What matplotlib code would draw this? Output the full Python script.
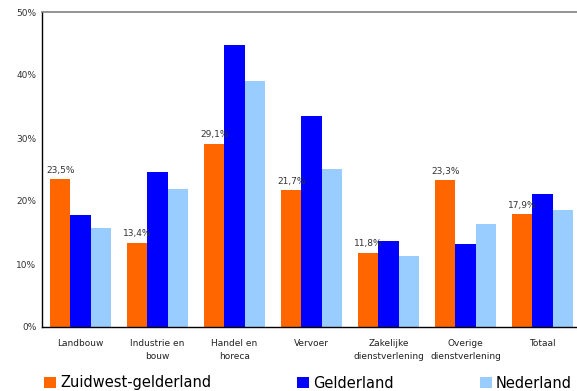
import matplotlib.pyplot as plt
import numpy as np

categories = ['Landbouw', 'Industrie en\nbouw', 'Handel en\nhoreca', 'Vervoer',
              'Zakelijke\ndienstverlening', 'Overige\ndienstverlening', 'Totaal']
zuidwest = [23.5, 13.4, 29.1, 21.7, 11.8, 23.3, 17.9]
gelderland = [17.8, 24.6, 44.8, 33.5, 13.6, 13.2, 21.1]
nederland = [15.7, 21.9, 39.0, 25.1, 11.3, 16.3, 18.6]

plt.rcParams['font.family'] = 'DejaVu Sans'

fig = plt.figure(figsize=(5.77, 3.91), dpi=100)
ax = fig.add_axes([42 / 577, 64 / 391, 539 / 577, 315 / 391])

x = np.arange(len(categories))
w = 0.26
b1 = ax.bar(x - w, zuidwest, w, color='#FF6600', label='Zuidwest-gelderland')
b2 = ax.bar(x, gelderland, w, color='#0000FF', label='Gelderland')
b3 = ax.bar(x + w, nederland, w, color='#99CCFF', label='Nederland')

# value labels only on the regional series
for bar, v in zip(b1, zuidwest):
    ax.text(bar.get_x() + bar.get_width() / 2, v + 0.7, f'{v:.1f}%'.replace('.', ','),
            ha='center', va='bottom', fontsize=6.5, color='#333333')

ax.set_xlim(-0.5, len(categories) - 0.5)
ax.set_ylim(0, 50)
ax.set_yticks(range(0, 51, 10))
ax.set_yticklabels([f'{t}%' for t in range(0, 51, 10)], fontsize=6.5, color='#333333')
ax.set_xticks(x)
ax.set_xticklabels(categories, fontsize=6.5, color='#222222', linespacing=1.5)
ax.tick_params(axis='both', length=0, pad=4)
ax.tick_params(axis='x', pad=9)

ax.spines['top'].set_color('#808080')
ax.spines['top'].set_linewidth(1.2)
ax.spines['left'].set_linewidth(1.0)
ax.spines['bottom'].set_linewidth(1.0)
ax.spines['right'].set_visible(False)

fig.legend(handles=[b1, b2, b3], loc='center left', bbox_to_anchor=(44 / 577, 1 - 383 / 391),
           ncol=3, frameon=False, fontsize=10.5, handlelength=0.8, handleheight=0.8,
           handletextpad=0.3, columnspacing=5.9, borderaxespad=0, borderpad=0)

fig.savefig('out.png', dpi=100)
